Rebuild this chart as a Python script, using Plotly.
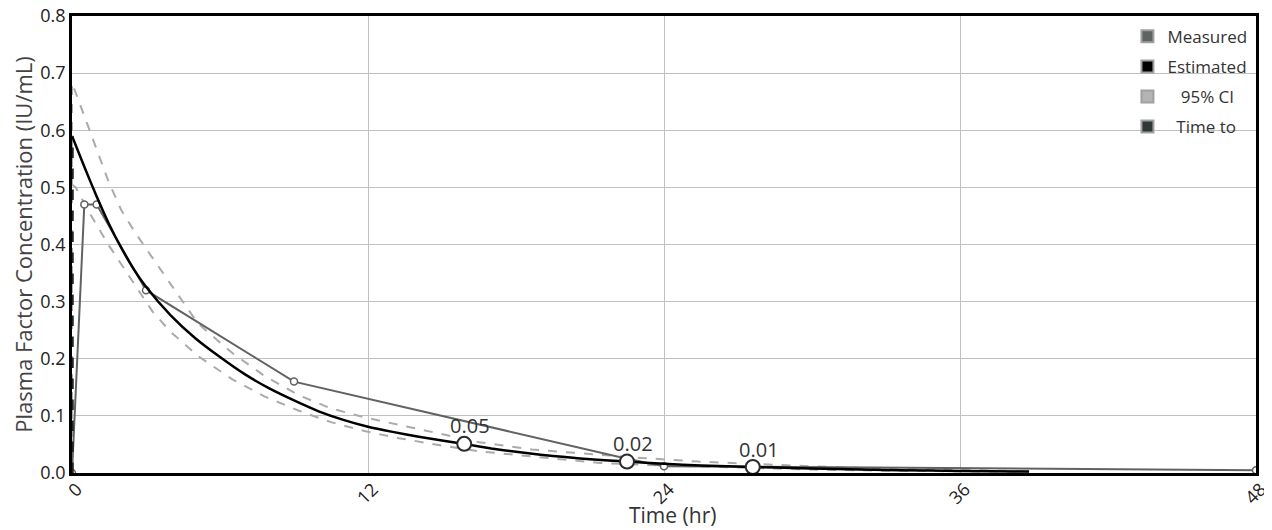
import plotly.graph_objects as go

# ---- data ----
meas_t = [0, 0.5, 1, 3, 9, 22.5, 24, 48]
meas_c = [0, 0.47, 0.47, 0.32, 0.16, 0.025, 0.012, 0.005]

est_t = [0, 0.5, 1, 1.5, 2, 2.5, 3, 4, 5, 6, 7, 8, 9, 10, 11, 12, 13, 14, 15,
         15.9, 17, 18, 19, 20, 21, 22.5, 24, 25.5, 27.6, 29.5, 31.5, 33.5, 36, 38.8]
est_c = [0.59, 0.536, 0.484, 0.436, 0.394, 0.357, 0.326, 0.276, 0.236, 0.203,
         0.173, 0.148, 0.127, 0.108, 0.093, 0.081, 0.072, 0.064, 0.057,
         0.051, 0.043, 0.037, 0.032, 0.028, 0.024, 0.020, 0.016, 0.013, 0.0105,
         0.0085, 0.0065, 0.005, 0.0035, 0.0025]

hi_t = [0, 0, 0.5, 1, 1.5, 2, 2.5, 3, 3.4, 4, 5.1, 6.5, 7.8, 9.2, 10.5, 11.9, 13.25,
        15, 16.5, 18.65, 21, 22.9, 25.4, 28, 31, 34, 36, 38.8]
hi_c = [0, 0.683, 0.625, 0.565, 0.508, 0.46, 0.425, 0.393, 0.368, 0.33, 0.262,
        0.21, 0.17, 0.136, 0.113, 0.097, 0.084, 0.068, 0.054, 0.041, 0.033,
        0.027, 0.020, 0.015, 0.010, 0.007, 0.005, 0.003]

lo_t = [0, 0, 0.15, 0.7, 1.5, 2.3, 3.26, 4, 5.1, 6.5, 7.8, 9.2, 10.5, 11.9, 13.25,
        15, 16.5, 18.65, 21.4, 24, 27, 30, 33, 36, 38.8]
lo_c = [0, 0.505, 0.50, 0.456, 0.398, 0.345, 0.283, 0.247, 0.205, 0.164, 0.134,
        0.109, 0.089, 0.073, 0.061, 0.048, 0.038, 0.029, 0.0175, 0.013, 0.009,
        0.006, 0.004, 0.003, 0.002]

mark_t = [15.9, 22.5, 27.6]
mark_c = [0.051, 0.020, 0.0105]
mark_labels = ["0.05", "0.02", "0.01"]

timeto_t = [0, 0]
timeto_c = [0, 0.59]

x_ticks = [0, 12, 24, 36, 48]
y_ticks = [0, 0.1, 0.2, 0.3, 0.4, 0.5, 0.6, 0.7, 0.8]
legend_names = ["Measured", "Estimated", "\u00a0\u00a0\u00a095% CI", "\u00a0\u00a0Time to"]
legend_colors = ["#5f6361", "#000000", "#b4b4b4", "#2f3838"]

FONT = "Open Sans"

fig = go.Figure()

fig.add_trace(go.Scatter(x=hi_t, y=hi_c, mode="lines", showlegend=False,
                         line=dict(color="#aaaaaa", width=2, dash="dash")))
fig.add_trace(go.Scatter(x=lo_t, y=lo_c, mode="lines", showlegend=False,
                         line=dict(color="#aaaaaa", width=2, dash="dash")))
fig.add_trace(go.Scatter(x=meas_t, y=meas_c, mode="lines+markers", showlegend=False,
                         line=dict(color="#5f6361", width=2),
                         marker=dict(size=7, color="white",
                                     line=dict(color="#5f6361", width=1.5))))
fig.add_trace(go.Scatter(x=est_t, y=est_c, mode="lines", showlegend=False,
                         line=dict(color="#000000", width=2.5, shape="spline", smoothing=0.6)))
fig.add_trace(go.Scatter(x=timeto_t, y=timeto_c, mode="lines", showlegend=False,
                         line=dict(color="#1e2424", width=3.5, dash="dash")))
fig.add_trace(go.Scatter(x=mark_t, y=mark_c, mode="markers", showlegend=False,
                         marker=dict(size=14, color="white",
                                     line=dict(color="#2b2b2b", width=2))))

for t, c, lab in zip(mark_t, mark_c, mark_labels):
    fig.add_annotation(x=t, y=c, text=lab, showarrow=False, xshift=6, yshift=18,
                       font=dict(family=FONT, size=20, color="#333333"))

for i, (nm, col) in enumerate(zip(legend_names, legend_colors)):
    fig.add_trace(go.Scatter(x=[None], y=[None], mode="markers", name=nm,
                             legendgroup=f"g{i}",
                             marker=dict(symbol="square", size=12, color=col,
                                         line=dict(color="#a0a0a0", width=1))))

fig.add_annotation(text="Time (hr)", xref="paper", yref="paper", x=0.5076, y=-0.092,
                   xanchor="center", yanchor="middle", showarrow=False,
                   font=dict(family=FONT, size=21, color="#333333"))

fig.update_layout(
    width=1272, height=530,
    margin=dict(l=64, r=24, t=8, b=65),
    paper_bgcolor="white", plot_bgcolor="white",
    font=dict(family=FONT, size=18, color="#222222"),
    legend=dict(x=0.997, y=0.994, xanchor="right", yanchor="top",
                bgcolor="rgba(0,0,0,0)", font=dict(family=FONT, size=17, color="#333333"),
                tracegroupgap=5, itemsizing="constant"),
    xaxis=dict(range=[0, 48], tickvals=x_ticks, ticktext=[str(v) for v in x_ticks],
               tickangle=-45, showgrid=True, gridcolor="#c0c0c0", gridwidth=1,
               showline=True, linecolor="black", linewidth=2.5, mirror=True,
               zeroline=False, ticks="", automargin=False, ticklabeloverflow="allow",
               ticklabelshift=5, ticklabelstandoff=-4,
               tickfont=dict(family=FONT, size=18, color="#222222")),
    yaxis=dict(range=[0, 0.8], tickvals=y_ticks, tickformat=".1f", showgrid=True,
               gridcolor="#c0c0c0", gridwidth=1, showline=True, linecolor="black",
               linewidth=2.5, mirror=True, zeroline=False, ticks="", automargin=False,
               ticklabeloverflow="allow",
               tickfont=dict(family=FONT, size=18, color="#222222"),
               title=dict(text="Plasma Factor Concentration (IU/mL)",
                          font=dict(family=FONT, size=22, color="#444444"), standoff=6)),
)

fig.write_html("out.html")
